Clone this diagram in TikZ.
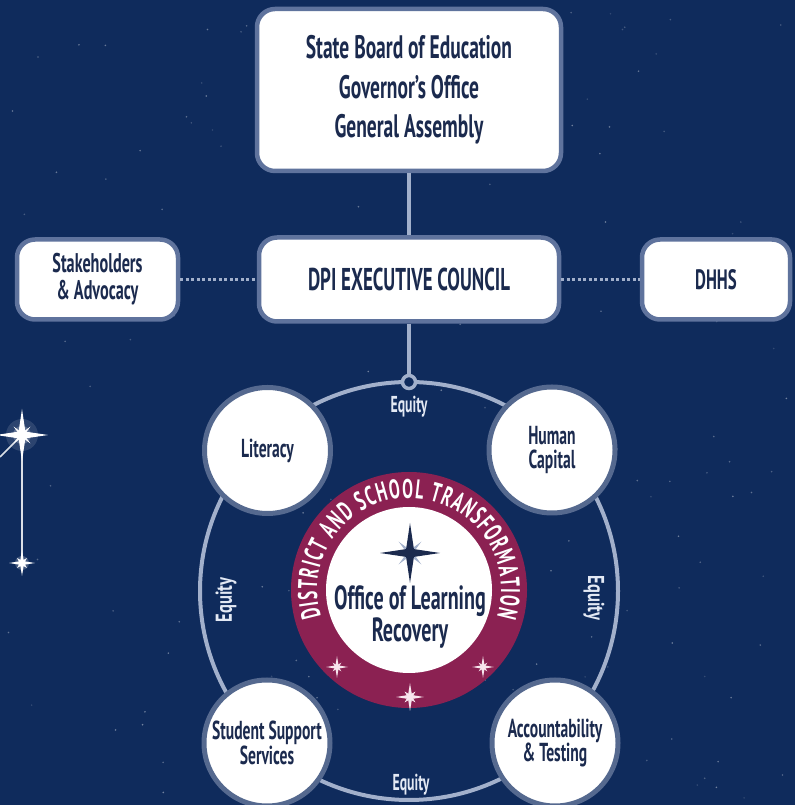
\documentclass[tikz,border=0pt]{standalone}
\usepackage{fontspec}
\newfontfamily\cond{PT Sans}[FakeStretch=0.6]
\usetikzlibrary{decorations.text}
\definecolor{bg}{HTML}{0F2B5C}
\definecolor{ink}{HTML}{1B2A4E}
\definecolor{boxedge}{HTML}{5F739D}
\definecolor{satedge}{HTML}{55698F}
\definecolor{linecol}{HTML}{A2B0CB}
\definecolor{emblemred}{HTML}{8B2152}
\definecolor{eqcol}{HTML}{E3E9F4}
\definecolor{spark}{HTML}{F8E6EE}
\newcommand\myfs[2]{\cond\bfseries\fontsize{#1}{#2}\selectfont}
\tikzset{
  box/.style={draw=boxedge, line width=4.5pt, fill=white, rounded corners=18pt,
    text=ink, align=center, inner sep=0pt},
  sat/.style={circle, draw=satedge, line width=5pt, fill=white, text=ink,
    align=center, minimum size=126pt, inner sep=0pt, font={\myfs{26}{23.5}}},
  conn/.style={draw=linecol, line width=4pt},
  dots/.style={draw=linecol, line width=3pt, dash pattern=on 3pt off 2.5pt},
  eq/.style={text=eqcol, font={\myfs{23}{23}}, inner sep=0pt},
  star4/.pic={\fill (0,1) -- (0.13,0.13) -- (1,0) -- (0.13,-0.13) -- (0,-1)
     -- (-0.13,-0.13) -- (-1,0) -- (-0.13,0.13) -- cycle;},
  star8/.pic={\fill (0,1) -- (0.14,0.14) -- (1,0) -- (0.14,-0.14) -- (0,-1)
     -- (-0.14,-0.14) -- (-1,0) -- (-0.14,0.14) -- cycle;
     \fill[rotate=45, scale=0.55] (0,1) -- (0.22,0.22) -- (1,0) -- (0.22,-0.22)
     -- (0,-1) -- (-0.22,-0.22) -- (-1,0) -- (-0.22,0.22) -- cycle;},
}
\begin{document}
\begin{tikzpicture}[x=1pt,y=1pt]
\useasboundingbox (0,0) rectangle (795,805);
\clip (0,0) rectangle (795,805);
\fill[bg] (0,0) rectangle (795,805);
% faint background stars
\pgfmathsetseed{12}
\foreach \i in {1,...,140}{
  \pgfmathsetmacro\sx{rnd*795}
  \pgfmathsetmacro\sy{rnd*805}
  \pgfmathsetmacro\so{0.12+0.3*rnd}
  \fill[white, opacity=\so] (\sx,\sy) circle (0.9);
}
% constellation at left
\coordinate (cs1) at (22,370);
\coordinate (cs2) at (22,242);
\coordinate (cs3) at (0,348);
\draw[white, line width=1.6pt, opacity=0.85] (cs1) -- (cs2);
\draw[white, line width=1.6pt, opacity=0.85] (cs1) -- (cs3);
\fill[white, opacity=0.12] (cs1) circle (16);
\fill[white, opacity=0.25] (cs1) circle (9);
\pic[color=white, scale=26] at (cs1) {star4};
\pic[color=white, rotate=45, scale=12] at (cs1) {star4};
\fill[white, opacity=0.2] (cs2) circle (7);
\pic[color=white, scale=13] at (cs2) {star8};
% ring
\node[circle, draw=linecol, line width=4pt, minimum size=418pt, inner sep=0pt] (ring) at (409,214) {};
% boxes
\node[box, minimum width=304pt, minimum height=162pt, font={\myfs{32.5}{39.5}}] (sbe) at (409,715)
  {State Board of Education\\Governor’s Office\\General Assembly};
\node[box, minimum width=300pt, minimum height=84pt, font={\myfs{31.5}{30}}] (dpi) at (409,525.5)
  {DPI EXECUTIVE COUNCIL};
\node[box, minimum width=161pt, minimum height=80pt, font={\myfs{27}{27}}] (stake) at (97.5,525.5)
  {Stakeholders\\\& Advocacy};
\node[box, minimum width=148pt, minimum height=80pt, font={\myfs{28}{28}}] (dhhs) at (716,525.5)
  {DHHS};
\node[circle, draw=linecol, fill=bg, line width=3.5pt, minimum size=13pt, inner sep=0pt] (junc) at (409,423) {};
% connectors
\draw[conn] (sbe) -- (dpi);
\draw[conn] (dpi) -- (junc);
\draw[dots] (stake) -- (dpi);
\draw[dots] (dpi) -- (dhhs);
% satellites
\node[sat] (lit) at (267.5,354.5) {Literacy};
\node[sat] (hc) at (552,355) {Human\\Capital};
\node[sat] (sss) at (267,62) {Student Support\\Services};
\node[sat] (acc) at (555,62) {Accountability\\\& Testing};
% emblem
\node[circle, fill=emblemred, minimum size=236pt, inner sep=0pt] (dst) at (409,215) {};
\node[circle, fill=white, minimum size=166pt, inner sep=0pt] (olr) at (409,215) {};
\path[decorate, decoration={text along path, text color=white,
   text={|\myfs{27}{27}|DISTRICT AND SCHOOL TRANSFORMATION}, text align=fit to path}]
   (dst.center) ++(197:92) arc[start angle=197, end angle=-17, radius=92];
\pic[color=linecol, rotate=45, scale=16] at (410,252) {star4};
\pic[color=ink, scale=30] at (410,252) {star4};
\node[text=ink, align=center, inner sep=0pt, font={\myfs{33.5}{28.5}}] (olrtext) at (410,188)
  {Office of Learning\\Recovery};
\pic[color=spark, scale=11] at (337,138) {star8};
\pic[color=spark, scale=11] at (483,138) {star8};
\pic[color=spark, scale=14] at (410,108) {star8};
% equity labels
\node[eq] (eqt) at (409,398) {Equity};
\node[eq, rotate=90] (eql) at (226,205) {\scalebox{1.2}[1]{Equity}};
\node[eq, rotate=-90] (eqr) at (594,207) {\scalebox{1.2}[1]{Equity}};
\node[eq] (eqb) at (411,20) {Equity};
\end{tikzpicture}
\end{document}
